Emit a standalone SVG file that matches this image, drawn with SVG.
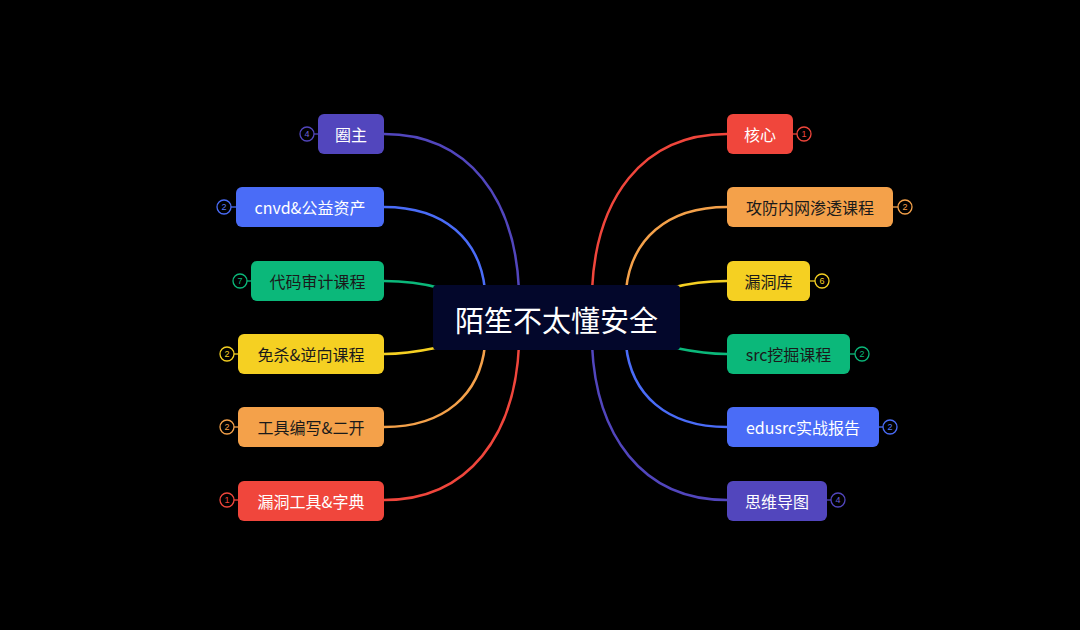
<svg xmlns="http://www.w3.org/2000/svg" width="1080" height="630" viewBox="0 0 1080 630">
<style>
.t{font-family:"Noto Sans CJK SC","Noto Sans",sans-serif;font-size:16px;text-anchor:middle;dominant-baseline:central}
.w{fill:#ffffff}
.d{fill:#1a1a1a}
.c{fill:none;stroke-width:2.5;stroke-linecap:round}
.b{fill:#000;stroke-width:1.3}
.bt{font-family:"Liberation Sans",sans-serif;font-size:9px;text-anchor:middle;dominant-baseline:central}
</style>
<rect width="1080" height="630" fill="#000"/>
<g id="connectors">
<path class="c" stroke="#5246bd" d="M384 134 C470 134 515 200 519 290"/>
<path class="c" stroke="#4a6cf7" d="M384 207 C445 207 480 240 485 290"/>
<path class="c" stroke="#0bb87a" d="M384 281 C410 281 425 284 440 288"/>
<path class="c" stroke="#f5d022" d="M384 354 C410 354 425 350 440 347"/>
<path class="c" stroke="#f4a14a" d="M384 427 C445 427 480 394 485 345"/>
<path class="c" stroke="#f0463c" d="M384 500 C470 500 515 434 519 345"/>
<path class="c" stroke="#f0463c" d="M727 134 C641 134 596 200 592 290"/>
<path class="c" stroke="#f4a14a" d="M727 207 C666 207 631 240 626 290"/>
<path class="c" stroke="#f5d022" d="M727 281 C701 281 686 284 671 288"/>
<path class="c" stroke="#0bb87a" d="M727 354 C701 354 686 350 671 347"/>
<path class="c" stroke="#4a6cf7" d="M727 427 C666 427 631 394 626 345"/>
<path class="c" stroke="#5246bd" d="M727 500 C641 500 596 434 592 345"/>
</g>
<g id="center">
<rect x="433" y="285" width="247" height="65" rx="4" fill="#03072b"/>
<text x="556.5" y="319" font-family="Noto Sans CJK SC, sans-serif" font-size="29" fill="#fff" text-anchor="middle" dominant-baseline="central">陌笙不太懂安全</text>
</g>
<g id="n-quanzhu">
<line x1="314" y1="134" x2="318" y2="134" stroke="#5246bd" stroke-width="1.3"/>
<circle class="b" cx="307" cy="134" r="7" stroke="#5246bd"/>
<text class="bt" x="307" y="134" fill="#6a60d8">4</text>
<rect x="318" y="114" width="66" height="40" rx="6" fill="#5246bd"/>
<text class="t w" x="351" y="134">圈主</text>
</g>
<g id="n-cnvd">
<line x1="231" y1="207" x2="236" y2="207" stroke="#4a6cf7" stroke-width="1.3"/>
<circle class="b" cx="224" cy="207" r="7" stroke="#4a6cf7"/>
<text class="bt" x="224" y="207" fill="#5a7cf7">2</text>
<rect x="236" y="187" width="148" height="40" rx="6" fill="#4a6cf7"/>
<text class="t w" x="310" y="207">cnvd&amp;公益资产</text>
</g>
<g id="n-daima">
<line x1="247" y1="281" x2="251" y2="281" stroke="#0bb87a" stroke-width="1.3"/>
<circle class="b" cx="240" cy="281" r="7" stroke="#0bb87a"/>
<text class="bt" x="240" y="281" fill="#0bb87a">7</text>
<rect x="251" y="261" width="133" height="40" rx="6" fill="#0bb87a"/>
<text class="t d" x="317.5" y="281">代码审计课程</text>
</g>
<g id="n-miansha">
<line x1="234" y1="354" x2="238" y2="354" stroke="#f5d022" stroke-width="1.3"/>
<circle class="b" cx="227" cy="354" r="7" stroke="#f5d022"/>
<text class="bt" x="227" y="354" fill="#f5d022">2</text>
<rect x="238" y="334" width="146" height="40" rx="6" fill="#f5d022"/>
<text class="t d" x="311" y="354">免杀&amp;逆向课程</text>
</g>
<g id="n-gongju">
<line x1="234" y1="427" x2="238" y2="427" stroke="#f4a14a" stroke-width="1.3"/>
<circle class="b" cx="227" cy="427" r="7" stroke="#f4a14a"/>
<text class="bt" x="227" y="427" fill="#f4a14a">2</text>
<rect x="238" y="407" width="146" height="40" rx="6" fill="#f4a14a"/>
<text class="t d" x="311" y="427">工具编写&amp;二开</text>
</g>
<g id="n-loudonggongju">
<line x1="234" y1="500" x2="238" y2="500" stroke="#f0463c" stroke-width="1.3"/>
<circle class="b" cx="227" cy="500" r="7" stroke="#f0463c"/>
<text class="bt" x="227" y="500" fill="#f0463c">1</text>
<rect x="238" y="481" width="146" height="40" rx="6" fill="#f0463c"/>
<text class="t w" x="311" y="501">漏洞工具&amp;字典</text>
</g>
<g id="n-hexin">
<line x1="793" y1="134" x2="797" y2="134" stroke="#f0463c" stroke-width="1.3"/>
<circle class="b" cx="804" cy="134" r="7" stroke="#f0463c"/>
<text class="bt" x="804" y="134" fill="#f0463c">1</text>
<rect x="727" y="114" width="66" height="40" rx="6" fill="#f0463c"/>
<text class="t w" x="760" y="134">核心</text>
</g>
<g id="n-gongfang">
<line x1="893" y1="207" x2="898" y2="207" stroke="#f4a14a" stroke-width="1.3"/>
<circle class="b" cx="905" cy="207" r="7" stroke="#f4a14a"/>
<text class="bt" x="905" y="207" fill="#f4a14a">2</text>
<rect x="727" y="187" width="166" height="40" rx="6" fill="#f4a14a"/>
<text class="t d" x="810" y="207">攻防内网渗透课程</text>
</g>
<g id="n-loudongku">
<line x1="810" y1="281" x2="815" y2="281" stroke="#f5d022" stroke-width="1.3"/>
<circle class="b" cx="822" cy="281" r="7" stroke="#f5d022"/>
<text class="bt" x="822" y="281" fill="#f5d022">6</text>
<rect x="727" y="261" width="83" height="40" rx="6" fill="#f5d022"/>
<text class="t d" x="768.5" y="281">漏洞库</text>
</g>
<g id="n-src">
<line x1="850" y1="354" x2="855" y2="354" stroke="#0bb87a" stroke-width="1.3"/>
<circle class="b" cx="862" cy="354" r="7" stroke="#0bb87a"/>
<text class="bt" x="862" y="354" fill="#0bb87a">2</text>
<rect x="727" y="334" width="123" height="40" rx="6" fill="#0bb87a"/>
<text class="t d" x="788.5" y="354">src挖掘课程</text>
</g>
<g id="n-edusrc">
<line x1="879" y1="427" x2="883" y2="427" stroke="#4a6cf7" stroke-width="1.3"/>
<circle class="b" cx="890" cy="427" r="7" stroke="#4a6cf7"/>
<text class="bt" x="890" y="427" fill="#5a7cf7">2</text>
<rect x="727" y="407" width="152" height="40" rx="6" fill="#4a6cf7"/>
<text class="t w" x="803" y="427">edusrc实战报告</text>
</g>
<g id="n-siwei">
<line x1="827" y1="500" x2="831" y2="500" stroke="#5246bd" stroke-width="1.3"/>
<circle class="b" cx="838" cy="500" r="7" stroke="#5246bd"/>
<text class="bt" x="838" y="500" fill="#6a60d8">4</text>
<rect x="727" y="481" width="100" height="40" rx="6" fill="#5246bd"/>
<text class="t w" x="777" y="501">思维导图</text>
</g>
</svg>
